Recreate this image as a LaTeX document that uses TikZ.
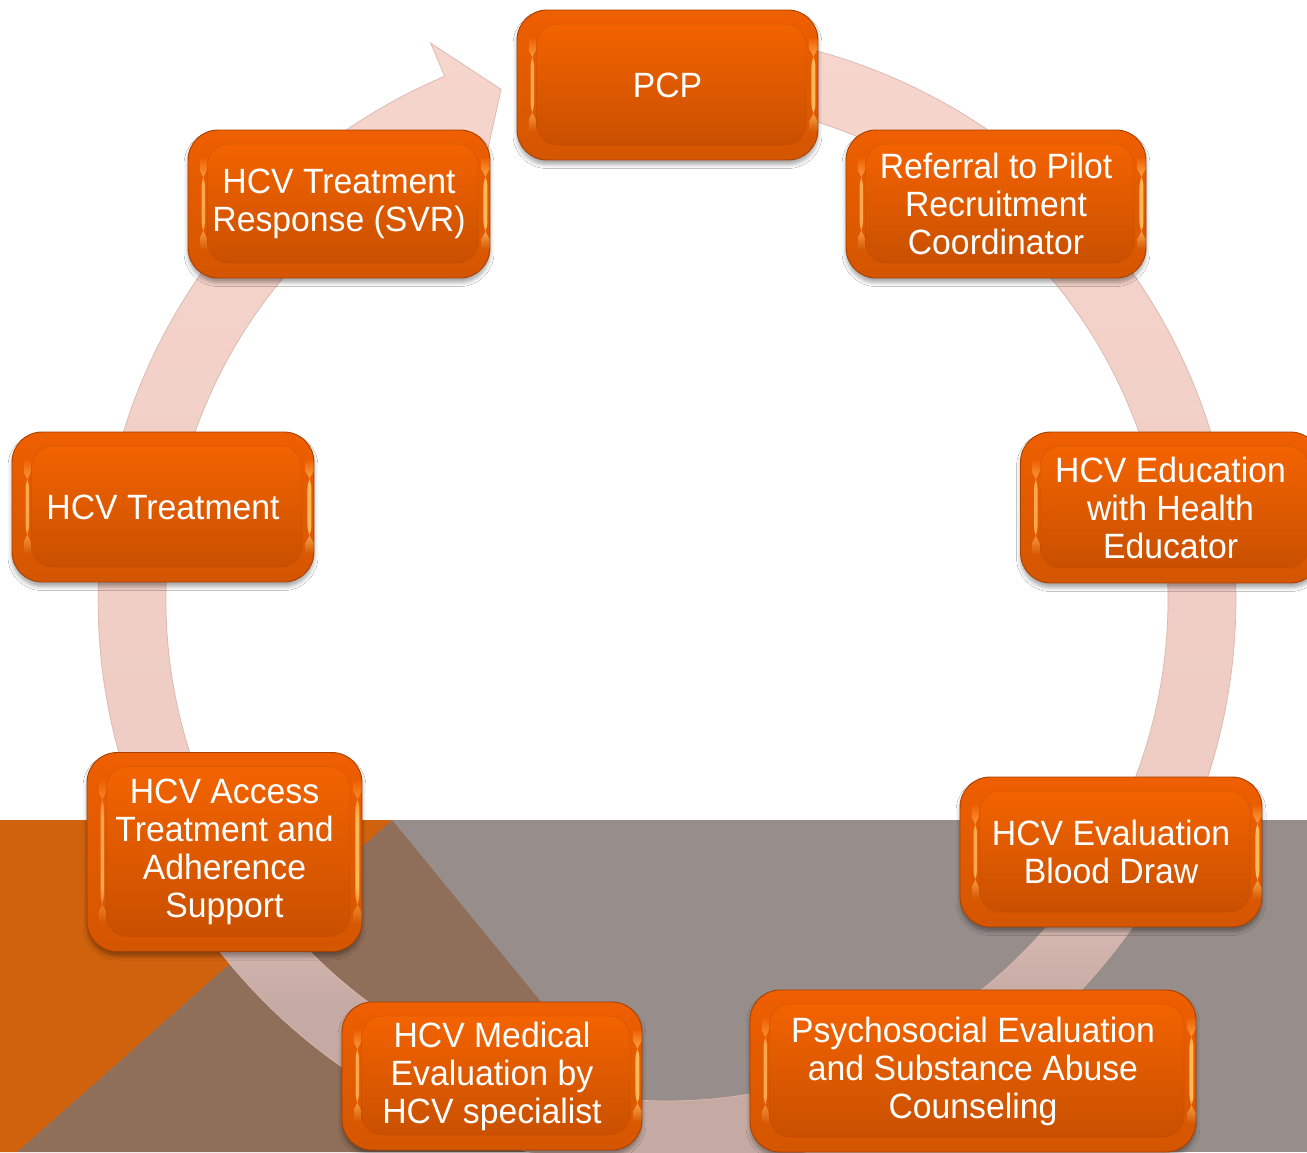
\documentclass[tikz,border=0pt]{standalone}
\usepackage{fontspec}
\newfontfamily\boxfont[FakeStretch=0.96]{Liberation Sans}
\usetikzlibrary{calc,shadows.blur}

% palette
\definecolor{bandgray}{RGB}{151,141,138}
\definecolor{bandorange}{RGB}{208,98,14}
\definecolor{bandbrown}{RGB}{143,110,90}
\definecolor{ringlight}{RGB}{246,213,204}
\definecolor{ringmid}{RGB}{238,204,195}
\definecolor{ringdark}{RGB}{197,170,163}
\definecolor{ringedge}{RGB}{218,183,173}
\definecolor{boxtop}{RGB}{238,95,0}
\definecolor{boxbot}{RGB}{212,86,0}
\definecolor{paneltop}{RGB}{243,99,0}
\definecolor{panelbot}{RGB}{201,80,0}
\definecolor{boxrim}{RGB}{168,64,0}
\definecolor{glowL}{RGB}{255,166,78}
\definecolor{glowR}{RGB}{255,184,90}

% ring tone: lighter at the top, greyer towards the bottom
\pgfdeclareverticalshading{ringshade}{100bp}{color(0bp)=(ringdark); color(33bp)=(ringdark); color(42bp)=(ringmid); color(75bp)=(ringlight); color(100bp)=(ringlight)}
% edge glints: fade in, hold, fade out
\pgfdeclareverticalshading{glintL}{100bp}{color(0bp)=(boxbot); color(25bp)=(boxbot); color(38bp)=(glowL); color(62bp)=(glowL); color(75bp)=(boxtop); color(100bp)=(boxtop)}
\pgfdeclareverticalshading{glintR}{100bp}{color(0bp)=(boxbot); color(25bp)=(boxbot); color(38bp)=(glowR); color(62bp)=(glowR); color(75bp)=(boxtop); color(100bp)=(boxtop)}

\tikzset{
  stepbox/.style={
    rectangle, rounded corners=0.6cm, draw=boxrim, line width=0.5pt,
    top color=boxtop, bottom color=boxbot,
    text=white, align=center, inner sep=0pt,
    font=\boxfont\fontsize{20}{21.6}\selectfont,
    minimum width=6cm, minimum height=3cm,
    blur shadow={shadow xshift=0pt, shadow yshift=-0.09cm,
                 shadow blur radius=0.08cm, shadow opacity=35},
    path picture={
      \coordinate (sw) at (path picture bounding box.south west);
      \coordinate (ne) at (path picture bounding box.north east);
      % bevel glints on the left and right edges
      \shade[shading=glintL]
        ($(sw)+(0.27cm,0.55cm)$) rectangle ($(sw|-ne)+(0.34cm,-0.55cm)$);
      \shade[shading=glintR]
        ($(ne|-sw)+(-0.13cm,0.55cm)$) rectangle ($(ne)+(-0.05cm,-0.55cm)$);
      % raised inner panel
      \draw[rounded corners=0.42cm, top color=paneltop, bottom color=panelbot,
            draw=boxrim, draw opacity=0.25, line width=0.4pt]
        ($(sw)+(0.39cm,0.3cm)$) rectangle ($(ne)+(-0.24cm,-0.28cm)$);
    }
  },
  ringpath/.style={shading=ringshade, draw=ringedge, line width=0.4pt}
}

\begin{document}
\begin{tikzpicture}[x=0.02cm, y=0.02cm]
  \useasboundingbox (0,0) rectangle (1307,-1152);
  \fill[white] (0,0) rectangle (1307,-1152);

  % lower background band
  \fill[bandgray] (0,-820) rectangle (1307,-1152);
  \fill[bandbrown] (392,-820) -- (17,-1152) -- (664,-1152) -- cycle;
  \fill[bandorange] (0,-820) -- (392,-820) -- (17,-1152) -- (0,-1152) -- cycle;

  % circular arrow running clockwise back into PCP
  \coordinate (C) at (667,-600);
  \shadedraw[ringpath]
    ($(C)+(85:569)$) arc[start angle=85, end angle=-247, radius=11.38cm]
    -- ($(C)+(-247:605)$) -- ($(C)+(-252:537)$) -- ($(C)+(-247:469)$)
    -- ($(C)+(-247:501)$) arc[start angle=-247, end angle=85, radius=10.02cm]
    -- cycle;

  % process steps
  \node[stepbox, minimum width=6.02cm] (pcp) at (667.5,-85) {PCP};
  \node[stepbox, minimum height=2.96cm] (referral) at (996,-204)
    {Referral to Pilot\\Recruitment\\Coordinator};
  \node[stepbox, minimum height=3.02cm] (education) at (1170.5,-507.5)
    {HCV Education\\with Health\\Educator};
  \node[stepbox, minimum width=6.04cm] (blood) at (1111,-852)
    {HCV Evaluation\\Blood Draw};
  \node[stepbox, minimum width=8.92cm, minimum height=3.24cm] (psych) at (973,-1071)
    {Psychosocial Evaluation\\and Substance Abuse\\Counseling};
  \node[stepbox, minimum height=2.96cm] (medical) at (492,-1076)
    {HCV Medical\\Evaluation by\\HCV specialist};
  \node[stepbox, minimum width=5.5cm, minimum height=3.98cm] (access) at (224.5,-852)
    {HCV Access\\Treatment and\\Adherence\\Support};
  \node[stepbox, minimum width=6.04cm] (treatment) at (163,-507) {HCV Treatment};
  \node[stepbox, minimum width=6.04cm, minimum height=2.96cm] (response) at (339,-204)
    {HCV Treatment\\Response (SVR)};
\end{tikzpicture}
\end{document}
